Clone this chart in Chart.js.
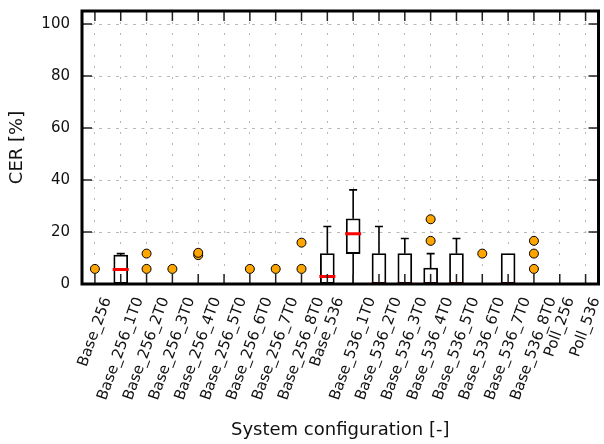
<!DOCTYPE html>
<html>
<head>
<meta charset="utf-8">
<script src="https://cdn.jsdelivr.net/npm/chart.js@4.4.1/dist/chart.umd.min.js"></script>
<style>
  html, body { margin: 0; padding: 0; background: #fff; }
  #wrap { width: 604px; height: 444px; }
</style>
</head>
<body>
<div id="wrap"><canvas id="myChart" width="604" height="444"></canvas></div>
<script>
// CER per system configuration (box plot summary)
const categories = [
    'Base_256', 'Base_256_1T0', 'Base_256_2T0', 'Base_256_3T0', 'Base_256_4T0',
    'Base_256_5T0', 'Base_256_6T0', 'Base_256_7T0', 'Base_256_8T0',
    'Base_536', 'Base_536_1T0', 'Base_536_2T0', 'Base_536_3T0', 'Base_536_4T0',
    'Base_536_5T0', 'Base_536_6T0', 'Base_536_7T0', 'Base_536_8T0',
    'Poll_256', 'Poll_536'
];
const boxLow      = [0, 0,    0, 0, 0, 0, 0, 0, 0, 0,    11.7, 0,    0,    0,   0,    0, 0,    0, 0, 0];
const boxHigh     = [0, 11.1, 0, 0, 0, 0, 0, 0, 0, 11.7, 25.1, 11.7, 11.7, 6.1, 11.7, 0, 11.7, 0, 0, 0];
const medians     = [0, 5.6,  0, 0, 0, 0, 0, 0, 0, 2.9,  19.3, 0,    0,    0,   0,    0, 0,    0, 0, 0];
const whiskerLow  = [0, 0,    0, 0, 0, 0, 0, 0, 0, 0,    0,    0,    0,    0,   0,    0, 0,    0, 0, 0];
const whiskerHigh = [0, 11.7, 0, 0, 0, 0, 0, 0, 0, 22.1, 36.2, 22.1, 17.5, 11.7, 17.5, 0, 11.7, 0, 0, 0];
const outliers = [
    [5.8], [], [5.8, 11.7], [5.8], [11.1, 12.0], [], [5.8], [5.8], [5.8, 15.9],
    [], [], [], [], [16.6, 24.9], [], [11.7], [], [5.8, 11.7, 16.6], [], []
];
const yTicks = [0, 20, 40, 60, 80, 100];

const FONT = 'DejaVu Sans';
const LABEL_ANGLE = 70;

// box bodies as floating bars, empty boxes left out
const boxData = categories.map(function (c, i) {
    return boxHigh[i] > boxLow[i] ? [boxLow[i], boxHigh[i]] : null;
});
const outlierData = [];
outliers.forEach(function (list, i) {
    list.forEach(function (v) { outlierData.push({ x: categories[i], y: v }); });
});

// whiskers, medians, frame, inward ticks and centred rotated x labels
const boxPlotExtras = {
    id: 'boxPlotExtras',
    afterDatasetsDraw: function (chart) {
        const ctx = chart.ctx;
        const a = chart.chartArea;
        const x = chart.scales.x;
        const y = chart.scales.y;
        ctx.save();
        ctx.strokeStyle = '#000';
        ctx.lineWidth = 1.6;
        categories.forEach(function (c, i) {
            const px = x.getPixelForValue(i);
            const cap = 4;
            if (whiskerHigh[i] > boxHigh[i]) {
                const top = y.getPixelForValue(whiskerHigh[i]);
                ctx.beginPath();
                ctx.moveTo(px, y.getPixelForValue(boxHigh[i]));
                ctx.lineTo(px, top);
                ctx.moveTo(px - cap, top);
                ctx.lineTo(px + cap, top);
                ctx.stroke();
            }
            if (whiskerLow[i] < boxLow[i]) {
                const bot = y.getPixelForValue(whiskerLow[i]);
                ctx.beginPath();
                ctx.moveTo(px, y.getPixelForValue(boxLow[i]));
                ctx.lineTo(px, bot);
                ctx.moveTo(px - cap, bot);
                ctx.lineTo(px + cap, bot);
                ctx.stroke();
            }
        });

        // medians, kept inside the frame
        ctx.save();
        ctx.beginPath();
        ctx.rect(a.left, a.top, a.right - a.left, a.bottom - a.top - 1.5);
        ctx.clip();
        ctx.strokeStyle = '#ff0000';
        ctx.lineWidth = 3;
        categories.forEach(function (c, i) {
            if (boxHigh[i] <= boxLow[i]) return;
            const px = x.getPixelForValue(i);
            const py = y.getPixelForValue(medians[i]);
            ctx.beginPath();
            ctx.moveTo(px - 8, py);
            ctx.lineTo(px + 8, py);
            ctx.stroke();
        });
        ctx.restore();

        // inward ticks
        ctx.strokeStyle = '#222';
        ctx.lineWidth = 1.5;
        ctx.beginPath();
        categories.forEach(function (c, i) {
            const px = x.getPixelForValue(i);
            ctx.moveTo(px, a.bottom);
            ctx.lineTo(px, a.bottom - 10);
            ctx.moveTo(px, a.top);
            ctx.lineTo(px, a.top + 10);
        });
        yTicks.forEach(function (v) {
            const py = y.getPixelForValue(v);
            ctx.moveTo(a.left, py);
            ctx.lineTo(a.left + 10, py);
            ctx.moveTo(a.right, py);
            ctx.lineTo(a.right - 10, py);
        });
        ctx.stroke();

        // frame
        ctx.strokeStyle = '#000';
        ctx.lineWidth = 3;
        ctx.strokeRect(a.left, a.top, a.right - a.left, a.bottom - a.top);

        // x labels: rotated, bounding box centred under the tick
        const th = LABEL_ANGLE * Math.PI / 180;
        const fh = 17;
        ctx.font = '15px "' + FONT + '"';
        ctx.fillStyle = '#111';
        ctx.textAlign = 'center';
        ctx.textBaseline = 'middle';
        categories.forEach(function (c, i) {
            const w = ctx.measureText(c).width;
            const bh = w * Math.sin(th) + fh * Math.cos(th);
            const px = x.getPixelForValue(i);
            ctx.save();
            ctx.translate(px, a.bottom + 11 + bh / 2);
            ctx.rotate(-th);
            ctx.fillText(c, 0, 0);
            ctx.restore();
        });
        ctx.restore();
    }
};

const ctx = document.getElementById('myChart');
new Chart(ctx, {
    type: 'bar',
    data: {
        labels: categories,
        datasets: [{
            label: 'box',
            data: boxData,
            backgroundColor: '#ffffff',
            borderColor: '#000000',
            borderWidth: 1.8,
            borderSkipped: false,
            barThickness: 14
        }, {
            type: 'line',
            label: 'outliers',
            data: outlierData,
            showLine: false,
            pointRadius: 4.5,
            pointHoverRadius: 4.5,
            pointBackgroundColor: '#ffa500',
            pointBorderColor: '#000000',
            pointBorderWidth: 1
        }]
    },
    options: {
        responsive: false,
        animation: false,
        events: [],
        layout: { padding: { top: 11, right: 0, left: 0, bottom: 0 } },
        plugins: {
            legend: { display: false },
            tooltip: { enabled: false }
        },
        scales: {
            x: {
                type: 'category',
                offset: true,
                afterFit: function (s) {
                    s.height = 160;
                    s.paddingLeft = 0;
                    s.paddingRight = 0;
                },
                grid: {
                    offset: false,
                    drawTicks: false,
                    color: '#b8b8b8',
                    lineWidth: 1
                },
                border: { display: false, dash: [2, 9] },
                ticks: { display: false, autoSkip: false },
                title: {
                    display: true,
                    text: 'System configuration [-]',
                    color: '#111',
                    padding: { top: 0, bottom: 3 },
                    font: { family: FONT, size: 18 }
                }
            },
            y: {
                min: 0,
                max: 105,
                afterFit: function (s) {
                    s.width = 82;
                    s.paddingTop = 0;
                    s.paddingBottom = 0;
                },
                grid: {
                    drawTicks: false,
                    color: '#b8b8b8',
                    lineWidth: 1
                },
                border: { display: false, dash: [3, 5.5] },
                ticks: {
                    stepSize: 20,
                    includeBounds: false,
                    padding: 12,
                    color: '#111',
                    font: { family: FONT, size: 15 }
                },
                title: {
                    display: true,
                    text: 'CER [%]',
                    color: '#111',
                    padding: { top: 7, bottom: 0 },
                    font: { family: FONT, size: 18 }
                }
            }
        }
    },
    plugins: [boxPlotExtras]
});
</script>
</body>
</html>
